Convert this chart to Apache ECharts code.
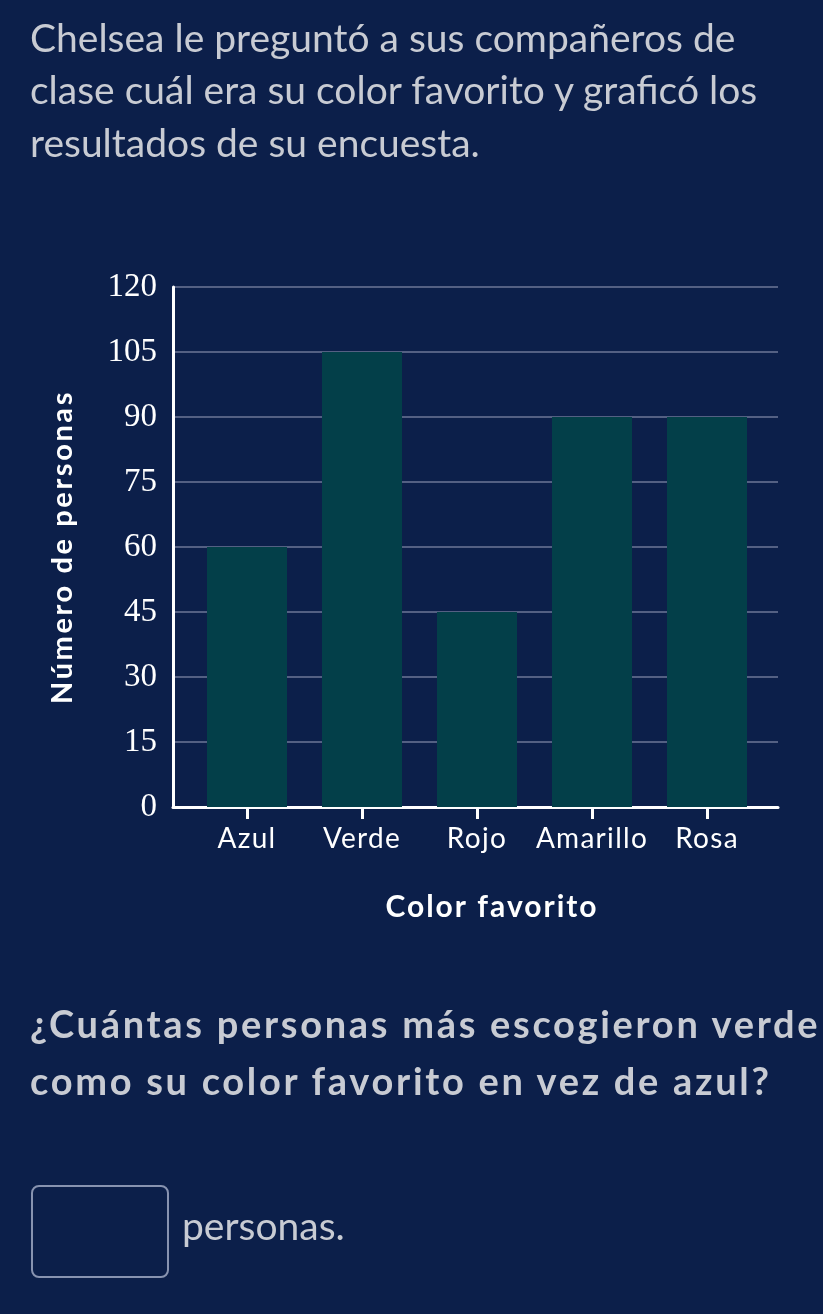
<!DOCTYPE html>
<html>
<head>
<meta charset="utf-8">
<script src="https://cdn.jsdelivr.net/npm/echarts@6/dist/echarts.min.js"></script>
<style>
html,body{margin:0;padding:0;background:#0c1f4a;}
#wrap{position:relative;width:823px;height:1314px;overflow:hidden;}
#c{position:absolute;left:0;top:0;width:823px;height:1314px;}
.t{position:absolute;left:30px;margin:0;font-family:Lato;color:#c8cbd3;white-space:nowrap;}
#title{top:10.6px;font-size:39px;line-height:52.5px;}
#question{top:995px;font-size:38px;font-weight:bold;line-height:57px;letter-spacing:2.7px;}
#box{position:absolute;left:31px;top:1185px;width:134px;height:89px;border:2px solid #8893b0;border-radius:8px;}
#unit{position:absolute;left:182px;top:1199px;font-family:Lato;font-size:39px;line-height:52.5px;color:#c8cbd3;}
</style>
</head>
<body>
<div id="wrap">
<div id="c"></div>
<div id="title" class="t"></div>
<div id="question" class="t"></div>
<div id="box"></div>
<div id="unit"></div>
</div>
<script>
var categories = ['Azul', 'Verde', 'Rojo', 'Amarillo', 'Rosa'];
var values = [60, 105, 45, 90, 90];
var yTicks = [0, 15, 30, 45, 60, 75, 90, 105, 120];
var titleLines = [
  'Chelsea le preguntó a sus compañeros de',
  'clase cuál era su color favorito y graficó los',
  'resultados de su encuesta.'
];
var questionLines = [
  '¿Cuántas personas más escogieron verde',
  'como su color favorito en vez de azul?'
];
var yAxisTitle = 'Número de personas';
var xAxisTitle = 'Color favorito';
var answerUnit = 'personas.';

document.getElementById('title').innerHTML = titleLines.join('<br>');
document.getElementById('question').innerHTML = questionLines.join('<br>');
document.getElementById('unit').textContent = answerUnit;

// letter spacing for the sans-serif chart texts (canvas)
(function () {
  var orig = CanvasRenderingContext2D.prototype.fillText;
  CanvasRenderingContext2D.prototype.fillText = function (t, x, y, m) {
    var f = this.font || '';
    var ls = '0px';
    if (f.indexOf('Lato') >= 0) {
      var bold = /bold|[6-9]00/.test(f);
      var sz = parseFloat((f.match(/([\d.]+)px/) || [0, 0])[1]);
      if (bold && sz === 29) ls = '2.6px';
      else if (bold && sz === 30) ls = '2px';
      else if (!bold && sz === 28) ls = '1.3px';
    }
    if ('letterSpacing' in this) this.letterSpacing = ls;
    return m === undefined ? orig.call(this, t, x, y) : orig.call(this, t, x, y, m);
  };
})();

var BG = '#0c1f4a';
var chart = echarts.init(document.getElementById('c'));

chart.setOption({
  backgroundColor: BG,
  animation: false,
  graphic: [
    {type: 'text', x: 492, y: 907,
      style: {text: xAxisTitle, fill: '#ffffff', font: 'bold 30px Lato', textAlign: 'center', textVerticalAlign: 'middle'}},
    {type: 'text', x: 63, y: 547, rotation: Math.PI / 2,
      style: {text: yAxisTitle, fill: '#ffffff', font: 'bold 29px Lato', textAlign: 'center', textVerticalAlign: 'middle'}}
  ],
  grid: [
    {left: 173, right: 45, top: 287, bottom: 507},
    {left: 189.5, width: 575, top: 287, bottom: 507}
  ],
  xAxis: [
    {gridIndex: 0, type: 'value', min: 0, max: 1,
      axisLine: {show: true, lineStyle: {color: '#ffffff', width: 3}},
      axisTick: {show: false}, axisLabel: {show: false}, splitLine: {show: false}},
    {gridIndex: 1, type: 'category', data: categories,
      axisLine: {show: false},
      axisTick: {show: true, alignWithLabel: true, length: 12, lineStyle: {color: '#ffffff', width: 3}},
      axisLabel: {color: '#ffffff', fontFamily: 'Lato', fontSize: 28, margin: 18, interval: 0}}
  ],
  yAxis: [
    {gridIndex: 0, type: 'value', min: yTicks[0], max: yTicks[yTicks.length - 1], interval: yTicks[1] - yTicks[0],
      axisLine: {show: true, lineStyle: {color: '#ffffff', width: 3}},
      axisTick: {show: false},
      axisLabel: {color: '#ffffff', fontFamily: 'Liberation Serif', fontSize: 33, margin: 16},
      splitLine: {show: true, lineStyle: {color: '#6c7797', width: 1.5}}},
    {gridIndex: 1, type: 'value', min: yTicks[0], max: yTicks[yTicks.length - 1],
      show: false, splitLine: {show: false}}
  ],
  series: [
    {type: 'bar', xAxisIndex: 1, yAxisIndex: 1, data: values, barWidth: 80,
      itemStyle: {color: '#033f49'}, z: 3}
  ]
});
</script>
</body>
</html>
